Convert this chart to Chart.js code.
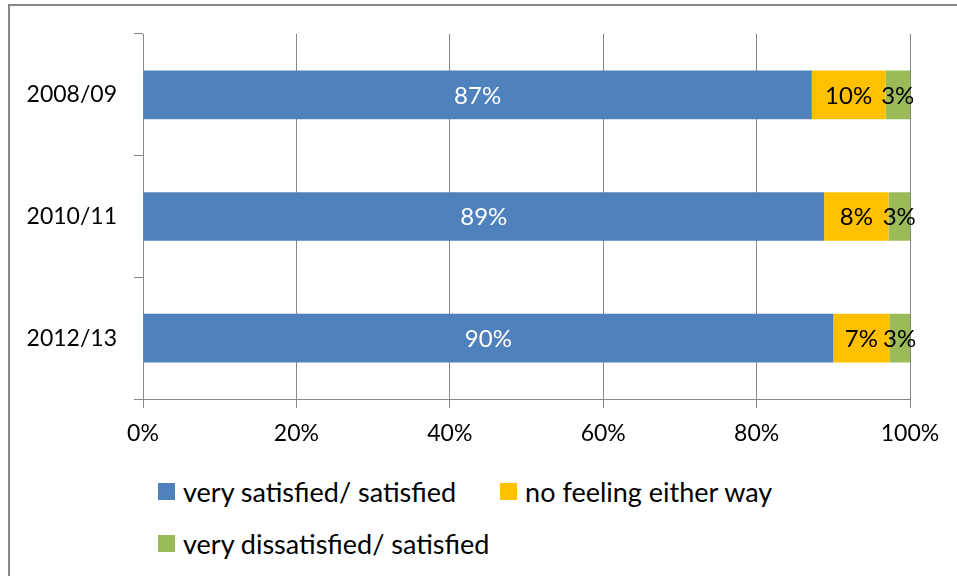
<!DOCTYPE html>
<html>
<head>
<meta charset="utf-8">
<script src="https://cdn.jsdelivr.net/npm/chart.js@4/dist/chart.umd.min.js"></script>
<style>
  html, body { margin: 0; padding: 0; background: #fff; }
  body { width: 957px; height: 576px; position: relative; overflow: hidden; font-family: Lato, sans-serif; }
  #frame { position: absolute; left: 8px; top: 4px; width: 1000px; height: 700px; border-left: 2px solid #878787; border-top: 2px solid #878787; }
  #wrap { position: absolute; left: 0; top: 0; width: 957px; height: 470px; }
  #legend { position: absolute; left: 158px; top: 473px; width: 660px; display: flex; flex-wrap: wrap; }
  .item { display: flex; align-items: center; height: 36px; margin-right: 44px; margin-bottom: 16px; font-size: 27px; color: #000; }
  .box { width: 17px; height: 17px; margin-right: 8px; }
</style>
</head>
<body>
<div id="frame"></div>
<div id="wrap"><canvas id="chart"></canvas></div>
<div id="legend"></div>
<script>
const years = ["2008/09", "2010/11", "2012/13"]
const satisfied = [87.2, 88.8, 90.0]
const noFeeling = [9.6, 8.4, 7.3]
const dissatisfied = [3.2, 2.8, 2.7]
const xTicks = [0, 20, 40, 60, 80, 100]

const seriesNames = ["very satisfied/ satisfied", "no feeling either way", "very dissatisfied/ satisfied"]
const seriesColors = ["#4F81BD", "#FFC000", "#9BBB59"]
const labelColors = ["#ffffff", "#000000", "#000000"]

const gridColor = "#878787"
const font = { family: "Lato", size: 23 }
const labelFont = { family: "Lato", size: 24 }

// draws the rounded percentage in the middle of each segment
const barLabels = {
  id: "barLabels",
  afterDatasetsDraw(chart) {
    const ctx = chart.ctx
    ctx.save()
    ctx.font = `${labelFont.size}px ${labelFont.family}`
    ctx.textAlign = "center"
    ctx.textBaseline = "middle"
    chart.data.datasets.forEach((ds, i) => {
      const meta = chart.getDatasetMeta(i)
      meta.data.forEach((bar, j) => {
        const p = bar.getProps(["x", "base", "y"], true)
        ctx.fillStyle = labelColors[i]
        ctx.fillText(Math.round(ds.data[j]) + "%", (p.x + p.base) / 2, p.y + 1)
      })
    })
    ctx.restore()
  }
}

const chart = new Chart(document.getElementById("chart"), {
  type: "bar",
  data: {
    labels: years,
    datasets: [satisfied, noFeeling, dissatisfied].map((values, i) => ({
      label: seriesNames[i],
      data: values,
      backgroundColor: seriesColors[i],
      borderWidth: 0,
      barPercentage: 0.4,
      categoryPercentage: 1
    }))
  },
  options: {
    indexAxis: "y",
    responsive: true,
    maintainAspectRatio: false,
    animation: false,
    layout: { padding: { top: 34, right: 47, left: 0, bottom: 0 } },
    plugins: {
      legend: { display: false },
      tooltip: { enabled: false }
    },
    scales: {
      x: {
        stacked: true,
        min: 0,
        max: 100,
        afterBuildTicks(scale) {
          scale.ticks = xTicks.map(v => ({ value: v }))
        },
        afterFit(scale) { scale.height = 71 },
        grid: { color: gridColor, lineWidth: 1, tickLength: 9, drawTicks: true },
        border: { display: true, color: gridColor, width: 1 },
        ticks: {
          font,
          color: "#000",
          padding: 12,
          maxRotation: 0,
          callback: v => v + "%"
        }
      },
      y: {
        stacked: true,
        afterFit(scale) { scale.width = 143 },
        grid: { drawOnChartArea: false, drawTicks: true, tickLength: 9, color: gridColor, offset: true },
        border: { display: true, color: gridColor, width: 1 },
        ticks: { font, color: "#000", padding: 17 }
      }
    }
  },
  plugins: [barLabels]
})

const legend = document.getElementById("legend")
seriesNames.forEach((name, i) => {
  const item = document.createElement("div")
  item.className = "item"
  const box = document.createElement("span")
  box.className = "box"
  box.style.background = seriesColors[i]
  item.appendChild(box)
  item.appendChild(document.createTextNode(name))
  legend.appendChild(item)
})
</script>
</body>
</html>
